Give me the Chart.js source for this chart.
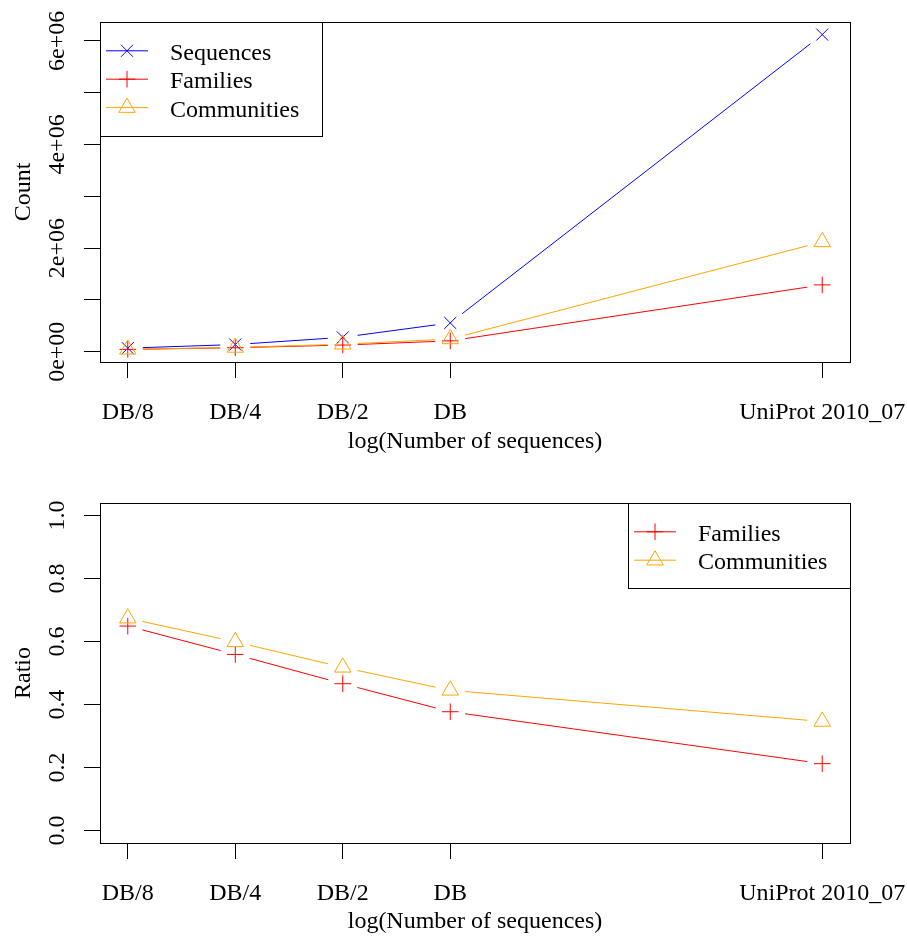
<!DOCTYPE html>
<html>
<head>
<meta charset="utf-8">
<script src="https://cdn.jsdelivr.net/npm/chart.js@4.4.0/dist/chart.umd.min.js"></script>
<style>
  html, body { margin: 0; padding: 0; background: #fff; }
  canvas { display: block; }
</style>
</head>
<body>
<canvas id="countChart" width="907" height="469"></canvas>
<canvas id="ratioChart" width="907" height="469"></canvas>
<script>
// Database sizes on the x axis (number of sequences, log scale)
const sizeLabels      = ['DB/8', 'DB/4', 'DB/2', 'DB', 'UniProt 2010_07'];
const sequenceCounts  = [69500, 139000, 278000, 556000, 6120000];

// Absolute counts per database size
const familyCounts    = [45000, 77500, 129000, 210000, 1290000];
const communityCounts = [46800, 83000, 144000, 247000, 2120000];

// Count / sequences ratios
const familyRatio     = [0.649, 0.559, 0.466, 0.377, 0.212];
const communityRatio  = [0.674, 0.599, 0.518, 0.445, 0.346];

// Axis ticks
const countTicks      = [0, 1e6, 2e6, 3e6, 4e6, 5e6, 6e6];
const countTickLabels = ['0e+00', '', '2e+06', '', '4e+06', '', '6e+06'];
const ratioTicks      = [0, 0.2, 0.4, 0.6, 0.8, 1.0];
const ratioTickLabels = ['0.0', '0.2', '0.4', '0.6', '0.8', '1.0'];

const FONT = "'Liberation Serif', 'Times New Roman', serif";
const FONT_SIZE = 24;
Chart.defaults.font.family = FONT;
Chart.defaults.font.size = FONT_SIZE;
Chart.defaults.color = '#000';

const seriesStyle = {
  Sequences:   { color: '#0000ff', pointStyle: 'crossRot', radius: 8.5 },
  Families:    { color: '#ff0000', pointStyle: 'cross',    radius: 8.3 },
  Communities: { color: '#ffa500', pointStyle: 'triangle', radius: 9.5 }
};

function series(name, values, order) {
  const st = seriesStyle[name];
  return {
    label: name,
    data: sequenceCounts.map((x, i) => ({ x: x, y: values[i] })),
    borderColor: st.color,
    backgroundColor: 'rgba(0,0,0,0)',
    pointBackgroundColor: 'rgba(0,0,0,0)',
    pointBorderColor: st.color,
    pointStyle: st.pointStyle,
    pointRadius: st.radius,
    pointHoverRadius: st.radius,
    pointBorderWidth: 1,
    borderWidth: 1,
    order: order
  };
}

// extend a range by 4% on each side
function padRange(lo, hi) {
  const d = (hi - lo) * 0.04;
  return [lo - d, hi + d];
}

// measure widest tick label so rotated y labels sit centred near the axis
const measureCtx = document.createElement('canvas').getContext('2d');
measureCtx.font = FONT_SIZE + 'px ' + FONT;
function widest(labels) {
  return Math.max.apply(null, labels.map(t => measureCtx.measureText(t).width));
}

// connecting segments that stop short of each marker
const GAP = 15;
const gapLines = {
  id: 'gapLines',
  beforeDatasetsDraw(chart) {
    const ctx = chart.ctx, a = chart.chartArea;
    ctx.save();
    ctx.beginPath();
    ctx.rect(a.left, a.top, a.right - a.left, a.bottom - a.top);
    ctx.clip();
    chart.data.datasets.forEach((ds, i) => {
      const pts = chart.getDatasetMeta(i).data;
      ctx.strokeStyle = ds.borderColor;
      ctx.lineWidth = ds.borderWidth;
      for (let k = 0; k < pts.length - 1; k++) {
        const p = pts[k], q = pts[k + 1];
        const dx = q.x - p.x, dy = q.y - p.y, len = Math.hypot(dx, dy);
        if (len <= 2 * GAP) continue;
        const ux = dx / len, uy = dy / len;
        ctx.beginPath();
        ctx.moveTo(p.x + ux * GAP, p.y + uy * GAP);
        ctx.lineTo(q.x - ux * GAP, q.y - uy * GAP);
        ctx.stroke();
      }
    });
    ctx.restore();
  }
};

// plot frame and boxed legend
const boxLegend = {
  id: 'boxLegend',
  afterDraw(chart, args, opts) {
    const ctx = chart.ctx, a = chart.chartArea;
    ctx.save();
    ctx.strokeStyle = '#000';
    ctx.lineWidth = 1;
    ctx.strokeRect(Math.round(a.left) + 0.5, Math.round(a.top) + 0.5,
                   Math.round(a.right - a.left), Math.round(a.bottom - a.top));

    const sets = chart.data.datasets;
    const w = opts.width, rowH = opts.rowHeight;
    const h = rowH * (sets.length + 1);
    const x0 = opts.align === 'right' ? a.right - w : a.left;
    const y0 = a.top;
    ctx.strokeRect(Math.round(x0) + 0.5, Math.round(y0) + 0.5, Math.round(w), Math.round(h));

    ctx.font = FONT_SIZE + 'px ' + FONT;
    ctx.textBaseline = 'alphabetic';
    ctx.textAlign = 'left';
    sets.forEach((ds, k) => {
      const y = y0 + opts.firstRow + k * rowH;
      ctx.strokeStyle = ds.borderColor;
      ctx.lineWidth = 1;
      ctx.beginPath();
      ctx.moveTo(x0 + 6, y);
      ctx.lineTo(x0 + 48, y);
      ctx.stroke();
      ctx.fillStyle = 'rgba(0,0,0,0)';
      Chart.helpers.drawPoint(ctx, {
        pointStyle: ds.pointStyle, radius: ds.pointRadius, rotation: 0, borderWidth: 1
      }, x0 + 27, y);
      ctx.fillStyle = '#000';
      ctx.fillText(ds.label, x0 + 70, y + 9);
    });
    ctx.restore();
  }
};

const [lx0, lx1] = padRange(Math.log10(Math.min(...sequenceCounts)),
                            Math.log10(Math.max(...sequenceCounts)));

function xScale(axisHeight, titlePad) {
  return {
    type: 'logarithmic',
    bounds: 'data',
    min: Math.pow(10, lx0),
    max: Math.pow(10, lx1),
    afterBuildTicks: s => { s.ticks = sequenceCounts.map(v => ({ value: v })); },
    afterFit: s => { s.height = axisHeight; s.paddingLeft = 0; s.paddingRight = 0; },
    ticks: {
      autoSkip: false, minRotation: 0, maxRotation: 0, padding: 20,
      color: '#000', font: { size: FONT_SIZE },
      callback: (v, i) => sizeLabels[i]
    },
    grid: { drawOnChartArea: false, drawTicks: true, tickLength: 16, color: '#000', lineWidth: 1 },
    border: { display: false },
    title: {
      display: true, text: 'log(Number of sequences)', color: '#000',
      font: { size: FONT_SIZE }, padding: { top: 0, bottom: titlePad }
    }
  };
}

function yScale(title, range, ticks, labels) {
  const centre = 58; // x of the rotated tick label centres
  return {
    type: 'linear',
    bounds: 'data',
    min: range[0],
    max: range[1],
    afterBuildTicks: s => { s.ticks = ticks.map(v => ({ value: v })); },
    afterFit: s => { s.width = 100; s.paddingTop = 0; s.paddingBottom = 0; },
    ticks: {
      autoSkip: false, minRotation: 90, maxRotation: 90, crossAlign: 'center',
      padding: 100 - 16 - centre - widest(labels) / 2,
      color: '#000', font: { size: FONT_SIZE },
      callback: v => {
        const i = ticks.findIndex(t => Math.abs(t - v) < 1e-9);
        return i >= 0 ? labels[i] : '';
      }
    },
    grid: { drawOnChartArea: false, drawTicks: true, tickLength: 16, color: '#000', lineWidth: 1 },
    border: { display: false },
    title: {
      display: true, text: title, color: '#000',
      font: { size: FONT_SIZE }, padding: { top: 9, bottom: 0 }
    }
  };
}

const allCounts = sequenceCounts.concat(familyCounts, communityCounts);

new Chart(document.getElementById('countChart'), {
  type: 'scatter',
  data: {
    datasets: [
      series('Sequences', sequenceCounts, 3),
      series('Families', familyCounts, 2),
      series('Communities', communityCounts, 1)
    ]
  },
  options: {
    responsive: false,
    animation: false,
    events: [],
    layout: { padding: { left: 0, right: 57, top: 22, bottom: 0 } },
    plugins: {
      legend: { display: false },
      tooltip: { enabled: false },
      boxLegend: { align: 'left', width: 222, rowHeight: 28.4, firstRow: 28.8 }
    },
    scales: {
      x: xScale(107, 12.6),
      y: yScale('Count', padRange(Math.min(...allCounts), Math.max(...allCounts)),
                countTicks, countTickLabels)
    }
  },
  plugins: [gapLines, boxLegend]
});

new Chart(document.getElementById('ratioChart'), {
  type: 'scatter',
  data: {
    datasets: [
      series('Families', familyRatio, 2),
      series('Communities', communityRatio, 1)
    ]
  },
  options: {
    responsive: false,
    animation: false,
    events: [],
    layout: { padding: { left: 0, right: 57, top: 34, bottom: 0 } },
    plugins: {
      legend: { display: false },
      tooltip: { enabled: false },
      boxLegend: { align: 'right', width: 222, rowHeight: 28.4, firstRow: 28.8 }
    },
    scales: {
      x: xScale(95, 1.6),
      y: yScale('Ratio', padRange(0, 1), ratioTicks, ratioTickLabels)
    }
  },
  plugins: [gapLines, boxLegend]
});
</script>
</body>
</html>
